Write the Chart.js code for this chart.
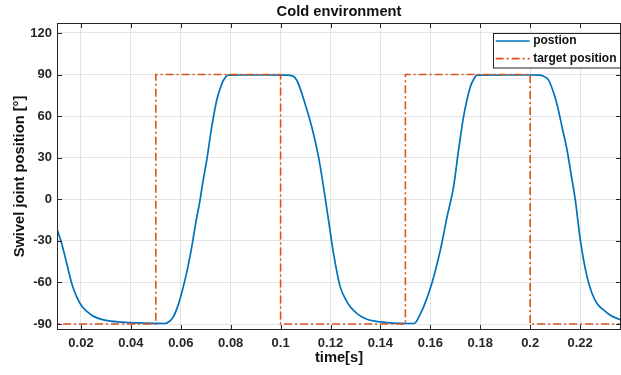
<!DOCTYPE html>
<html>
<head>
<meta charset="utf-8">
<script src="https://cdn.jsdelivr.net/npm/chart.js@4.4.1/dist/chart.umd.min.js"></script>
<style>
  html, body { margin: 0; padding: 0; background: #fff; }
  #wrap { width: 621px; height: 375px; position: relative; }
</style>
</head>
<body>
<div id="wrap"><canvas id="swivelChart"></canvas></div>
<script>
const chartTitle = "Cold environment";
const xTitle = "time[s]";
const yTitle = "Swivel joint position [°]";
const seriesLabels = ["postion", "target position"];

const xTicks = [0.02, 0.04, 0.06, 0.08, 0.1, 0.12, 0.14, 0.16, 0.18, 0.2, 0.22];
const yTicks = [-90, -60, -30, 0, 30, 60, 90, 120];

const positionTime = [
  0.0103, 0.0123, 0.0143, 0.0163, 0.0183, 0.0203, 0.0243, 0.0296, 0.0363, 0.045,
  0.05, 0.0537, 0.0555, 0.057, 0.059, 0.061, 0.0627, 0.0644, 0.066, 0.0677,
  0.069, 0.0704, 0.0724, 0.0744, 0.0758, 0.0771, 0.0791, 0.085, 0.095, 0.1025,
  0.1045, 0.1065, 0.1098, 0.1125, 0.1152, 0.1172, 0.1192, 0.1212, 0.1239, 0.126,
  0.1279, 0.131, 0.1346, 0.14, 0.1452, 0.1533, 0.1545, 0.1559, 0.1573, 0.1606,
  0.164, 0.1667, 0.1693, 0.1713, 0.1733, 0.176, 0.1775, 0.1787, 0.19, 0.2,
  0.204, 0.2057, 0.2074, 0.209, 0.2107, 0.2128, 0.2148, 0.2165, 0.2181, 0.2201,
  0.2228, 0.2248, 0.2268, 0.2295, 0.2321, 0.2365,
];
const positionAngle = [
  -21, -32, -46.3, -60.7, -70.4, -77, -83.6, -87.2, -88.6, -89.3,
  -89.5, -89.6, -88, -84.8, -76, -63.2, -50, -34.3, -17, -0.7,
  14, 28.2, 52.2, 71.5, 80, 85.9, 89.6, 89.7, 89.7, 89.6,
  89.2, 85.9, 69, 52.2, 30.6, 8.9, -15.1, -39, -63.2, -72,
  -77.6, -83, -86.5, -88.5, -89.4, -89.6, -88, -83, -77.6, -60.7,
  -36.7, -12.7, 8.9, 35.4, 59.4, 81, 87, 89.6, 89.7, 89.7,
  89.6, 88.5, 86, 79, 69, 52, 35.4, 17, -0.6, -29.5,
  -56, -68, -75.2, -80, -83.6, -87.2,
];

// square-wave command
const targetTime = [0.0, 0.05, 0.05, 0.1, 0.1, 0.15, 0.15, 0.2, 0.2, 0.25];
const targetAngle = [-90, -90, 90, 90, -90, -90, 90, 90, -90, -90];

const fontFamily = "'Liberation Sans', Arial, sans-serif";
const axisColor = "#262626";

const framePlugin = {
  id: "frame",
  afterDatasetsDraw(chart) {
    const { ctx, chartArea: a, scales } = chart;
    ctx.save();
    ctx.strokeStyle = axisColor;
    ctx.lineWidth = 1;
    ctx.beginPath();
    scales.x.ticks.forEach((t) => {
      const px = Math.round(scales.x.getPixelForValue(t.value)) + 0.5;
      ctx.moveTo(px, a.bottom);
      ctx.lineTo(px, a.bottom - 5);
      ctx.moveTo(px, a.top);
      ctx.lineTo(px, a.top + 5);
    });
    scales.y.ticks.forEach((t) => {
      const py = Math.round(scales.y.getPixelForValue(t.value)) + 0.5;
      ctx.moveTo(a.left, py);
      ctx.lineTo(a.left + 5, py);
      ctx.moveTo(a.right, py);
      ctx.lineTo(a.right - 5, py);
    });
    ctx.stroke();
    ctx.strokeRect(a.left + 0.5, a.top + 0.5, a.right - a.left - 1, a.bottom - a.top - 1);

    ctx.fillStyle = "#111";
    ctx.font = "bold 14.7px " + fontFamily;
    ctx.textAlign = "center";
    ctx.textBaseline = "middle";
    ctx.fillText(chartTitle, (a.left + a.right) / 2, 12);
    ctx.restore();
  },
  afterDraw(chart) {
    const { ctx, chartArea: a } = chart;
    const sets = chart.data.datasets;
    ctx.save();
    ctx.font = "bold 12px " + fontFamily;
    const textW = Math.max(...sets.map((d) => ctx.measureText(d.label).width));
    const right = a.right - 1.5;
    const left = right - (3 + 34 + 3.5 + textW + 3);
    const top = a.top + 10.5;
    const rowGap = 17.6;
    ctx.fillStyle = "#fff";
    ctx.fillRect(left, top, right - left, 34.5);
    ctx.strokeStyle = "#262626";
    ctx.lineWidth = 1;
    ctx.strokeRect(Math.round(left) + 0.5, top, Math.round(right - left), 34.5);
    sets.forEach((d, i) => {
      const y = top + 7.5 + i * rowGap;
      ctx.beginPath();
      ctx.strokeStyle = d.borderColor;
      ctx.lineWidth = d.borderWidth;
      ctx.setLineDash(d.borderDash || []);
      ctx.moveTo(left + 3, y);
      ctx.lineTo(left + 37, y);
      ctx.stroke();
      ctx.setLineDash([]);
      ctx.fillStyle = "#111";
      ctx.textAlign = "left";
      ctx.textBaseline = "middle";
      ctx.fillText(d.label, left + 40.5, y);
    });
    ctx.restore();
  },
};

function createSwivelChart() {
  const canvas = document.getElementById("swivelChart");
  if (!canvas) return;

  new Chart(canvas, {
    type: "line",
    data: {
      datasets: [
        {
          label: seriesLabels[0],
          data: positionTime.map((t, i) => ({ x: t, y: positionAngle[i] })),
          borderColor: "#0072BD",
          borderWidth: 1.7,
          pointRadius: 0,
          cubicInterpolationMode: "monotone",
          order: 1,
        },
        {
          label: seriesLabels[1],
          data: targetTime.map((t, i) => ({ x: t, y: targetAngle[i] })),
          borderColor: "#D95319",
          borderWidth: 1.6,
          borderDash: [8, 3, 2, 3],
          pointRadius: 0,
          tension: 0,
          order: 0,
        },
      ],
    },
    options: {
      responsive: true,
      maintainAspectRatio: false,
      animation: false,
      layout: { padding: { top: 23, left: 0, right: 0, bottom: 0 } },
      plugins: {
        legend: { display: false },
        tooltip: { enabled: false },
      },
      scales: {
        x: {
          type: "linear",
          min: 0.0104,
          max: 0.2364,
          afterFit: (s) => { s.height = 45; },
          afterBuildTicks: (s) => { s.ticks = xTicks.map((v) => ({ value: v })); },
          grid: { color: "#e3e3e3", drawTicks: false },
          border: { display: false },
          ticks: {
            color: axisColor,
            font: { family: fontFamily, size: 13, weight: "bold" },
            padding: 6,
            maxRotation: 0,
            autoSkip: false,
            callback: (v) => String(+v.toFixed(2)),
          },
          title: {
            display: true,
            text: xTitle,
            color: "#111",
            font: { family: fontFamily, size: 14.7, weight: "bold" },
            padding: { top: 0, bottom: 8 },
          },
        },
        y: {
          type: "linear",
          min: -94.3,
          max: 127.2,
          afterFit: (s) => { s.width = 57; },
          afterBuildTicks: (s) => { s.ticks = yTicks.map((v) => ({ value: v })); },
          grid: { color: "#e3e3e3", drawTicks: false },
          border: { display: false },
          ticks: {
            color: axisColor,
            font: { family: fontFamily, size: 13, weight: "bold" },
            padding: 5,
            autoSkip: false,
          },
          title: {
            display: true,
            text: yTitle,
            color: "#111",
            font: { family: fontFamily, size: 14.7, weight: "bold" },
            padding: { top: 11, bottom: 0 },
          },
        },
      },
    },
    plugins: [framePlugin],
  });
}

createSwivelChart();
</script>
</body>
</html>
